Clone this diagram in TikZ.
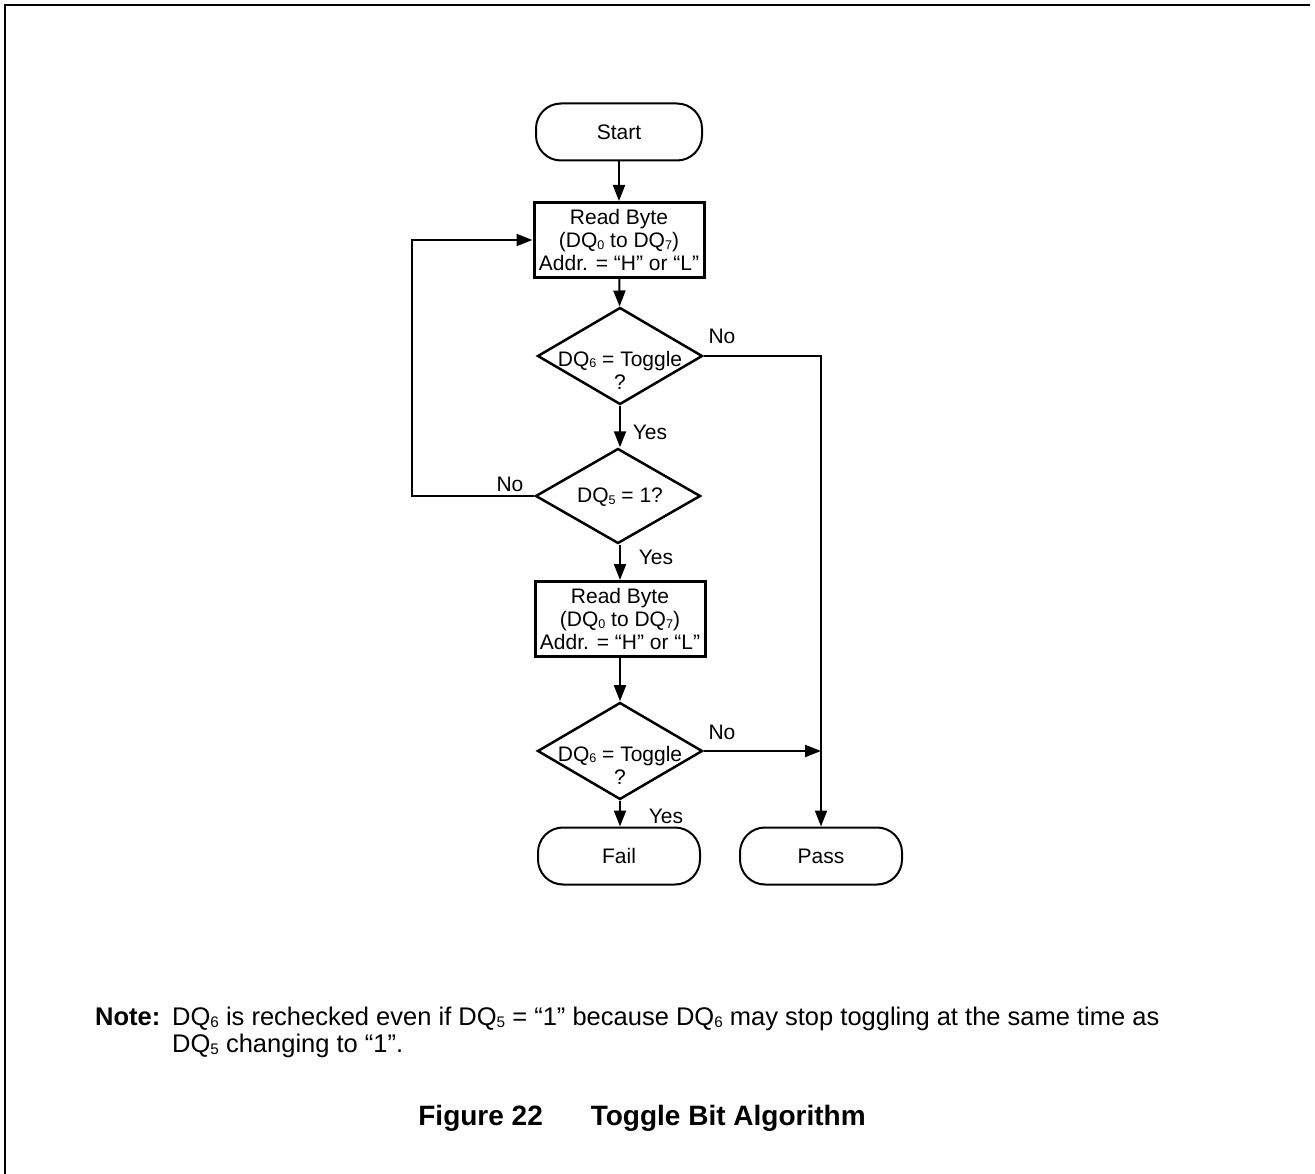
\documentclass[tikz,border=0pt]{standalone}
\usepackage{fontspec}
\setmainfont{Liberation Sans}
\usepackage{graphicx}
\usetikzlibrary{shapes.geometric,arrows.meta}
\newcommand{\sbs}[1]{\raisebox{-0.08em}{\scalebox{0.6}{#1}}}
\begin{document}
\begin{tikzpicture}[x=1pt,y=-1pt,
  every node/.style={font=\fontsize{21}{23}\selectfont},
  term/.style={draw, line width=2pt, rounded corners=25pt, minimum width=166pt, minimum height=57pt, inner sep=0pt},
  proc/.style={draw, line width=3pt, minimum width=170pt, minimum height=75pt, inner sep=0pt, align=center},
  dec/.style={draw, diamond, line width=2.5pt, minimum width=165pt, minimum height=97pt, inner sep=0pt},
  dtext/.style={align=center, inner sep=0pt},
  conn/.style={line width=2pt, -{Triangle[length=16pt,width=12pt]}},
  notefont/.style={font=\fontsize{25.5}{29}\selectfont},
  boldfont/.style={font=\bfseries\fontsize{25.5}{29}\selectfont},
  capfont/.style={font=\bfseries\fontsize{28}{32}\selectfont}
]
\useasboundingbox (0,0) rectangle (1315,1174);
\draw[line width=2pt] (5,1174) -- (5,5) -- (1310,5);

\node[term] (start) at (619,132) {Start};
\node[proc] (rb1) at (619,240) {Read Byte\\(DQ\sbs{0} to DQ\sbs{7})\\Addr. = “H” or “L”};
\node[dec] (d1) at (620,356) {};
\node[dtext] (d1t) at (620,370) {DQ\sbs{6} = Toggle\\?};
\node[dec, minimum height=95pt] (d2) at (618,496) {};
\node[dtext] (d2t) at (620,497) {DQ\sbs{5} = 1?};
\node[proc] (rb2) at (620,619) {Read Byte\\(DQ\sbs{0} to DQ\sbs{7})\\Addr. = “H” or “L”};
\node[dec] (d3) at (620,751) {};
\node[dtext] (d3t) at (620,765) {DQ\sbs{6} = Toggle\\?};
\node[term, minimum width=162pt] (fail) at (619,856) {Fail};
\node[term, minimum width=162pt] (pass) at (821,856) {Pass};

\draw[conn] (start) -- (rb1);
\draw[conn] (rb1) -- (d1);
\draw[conn] (d1.south) -- (d1.south |- d2.north);
\draw[conn] (d2.south -| rb2.north) -- (rb2.north);
\draw[conn] (rb2) -- (d3);
\draw[conn] (d3.south) -- (d3.south |- fail.north);
\draw[conn] (d1.east) -| (pass.north);
\draw[conn] (d3.east) -- (d3.east -| pass.north);
\coordinate (loopc) at (412,496);
\draw[conn] (d2.west) -- (loopc) |- (rb1.west);

\node (no1) at (722,336) {No};
\node (yes1) at (650,432) {Yes};
\node (no2) at (510,484) {No};
\node (yes2) at (656,557) {Yes};
\node (no3) at (722,732) {No};
\node (yes3) at (666,816) {Yes};

\node[boldfont, anchor=base west, inner sep=0pt] (notelab) at (95,1025) {Note:};
\node[notefont, anchor=base west, inner sep=0pt] (note1) at (172,1025) {DQ\sbs{6} is rechecked even if DQ\sbs{5} = “1” because DQ\sbs{6} may stop toggling at the same time as};
\node[notefont, anchor=base west, inner sep=0pt] (note2) at (172,1052) {DQ\sbs{5} changing to “1”.};
\node[capfont, anchor=base, inner sep=0pt] (cap) at (642,1125) {Figure 22\hspace{48pt}Toggle Bit Algorithm};
\end{tikzpicture}
\end{document}
